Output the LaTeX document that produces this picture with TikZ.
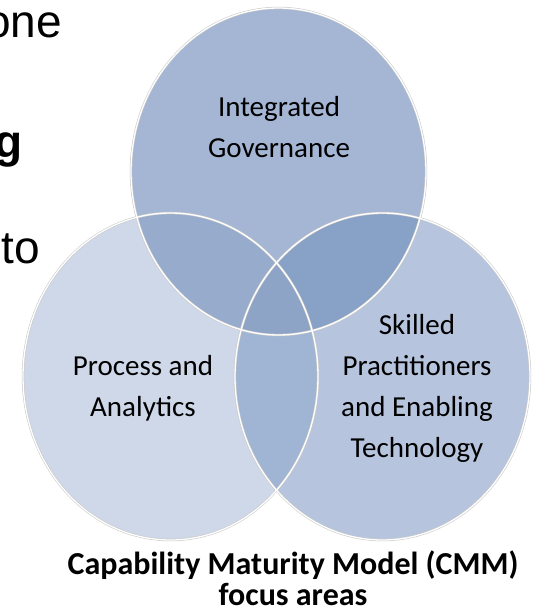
\documentclass[tikz,border=0pt]{standalone}
\usepackage{fontspec}
\setmainfont{Carlito}
\newfontfamily\arialfont{Liberation Sans}
\usetikzlibrary{shapes.geometric}
\definecolor{topc}{HTML}{A4B6D4}
\definecolor{leftc}{HTML}{CFD8E8}
\definecolor{rightc}{HTML}{B6C5DD}
\definecolor{tlc}{HTML}{97ABCC}
\definecolor{trc}{HTML}{88A1C6}
\definecolor{lrc}{HTML}{A0B4D3}
\definecolor{allc}{HTML}{8DA4C7}
\definecolor{rimc}{HTML}{C8C8C8}
\tikzset{
  venn/.style={ellipse, minimum width=295pt, minimum height=327pt, inner sep=0pt, draw=none},
  rim/.style={draw=rimc, line width=2.4pt},
  rimw/.style={draw=white, line width=1.3pt},
  lbl/.style={align=center, text=black, font=\fontsize{29}{41}\selectfont, inner sep=0pt},
  captext/.style={align=center, text=black, font=\bfseries\fontsize{32}{31}\selectfont, inner sep=0pt},
  frag/.style={anchor=base east, inner sep=0pt, text=black, font=\arialfont\fontsize{46}{50}\selectfont}
}
\begin{document}
\begin{tikzpicture}[x=1pt,y=-1pt]
\useasboundingbox (0,0) rectangle (534,612);
% fragments of slide text
\node[frag] (fone) at (62,38) {one};
\node[frag, font=\arialfont\bfseries\fontsize{46}{50}\selectfont] (fg) at (23,158) {g};
\node[frag] (fto) at (40,263) {to};
% circles
\node[venn, fill=leftc] (L) at (170.5,376.5) {};
\node[venn, fill=rightc] (R) at (382.5,376.5) {};
\node[venn, fill=topc] (T) at (278.5,171.5) {};
% overlaps
\begin{scope}
  \clip (278.5,171.5) ellipse [x radius=147.5pt, y radius=163.5pt];
  \fill[tlc] (170.5,376.5) ellipse [x radius=147.5pt, y radius=163.5pt];
  \fill[trc] (382.5,376.5) ellipse [x radius=147.5pt, y radius=163.5pt];
\end{scope}
\begin{scope}
  \clip (170.5,376.5) ellipse [x radius=147.5pt, y radius=163.5pt];
  \fill[lrc] (382.5,376.5) ellipse [x radius=147.5pt, y radius=163.5pt];
  \clip (278.5,171.5) ellipse [x radius=147.5pt, y radius=163.5pt];
  \fill[allc] (382.5,376.5) ellipse [x radius=147.5pt, y radius=163.5pt];
\end{scope}
% outlines
\foreach \c in {L,R,T}{
  \draw[rim] (\c.center) ellipse [x radius=147.5pt, y radius=163.5pt];
}
\foreach \c in {L,R,T}{
  \draw[rimw] (\c.center) ellipse [x radius=147.5pt, y radius=163.5pt];
}
% labels
\node[lbl] (tT) at (279,127) {Integrated\\Governance};
\node[lbl] (tL) at (143,388) {Process and\\Analytics};
\node[lbl] (tR) at (417,388) {Skilled\\Practitioners\\and Enabling\\Technology};
\node[captext] (cap) at (293,578) {Capability Maturity Model (CMM)\\focus areas};
\end{tikzpicture}
\end{document}
